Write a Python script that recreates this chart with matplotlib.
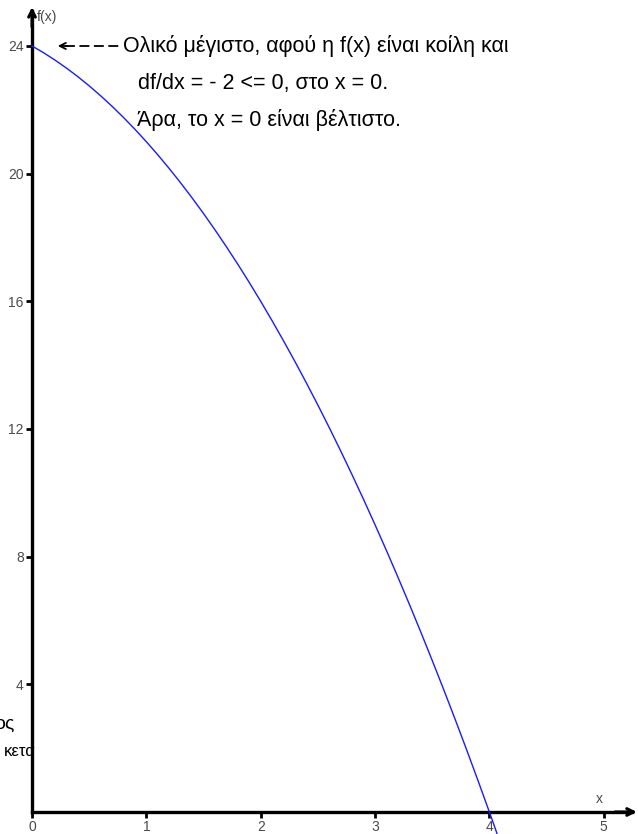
import matplotlib
matplotlib.use("Agg")
import matplotlib.pyplot as plt

plt.rcParams['font.family'] = ['Liberation Sans', 'DejaVu Sans']

# Sample points of f(x) along the plotted range
x_vals = [0.0, 0.1, 0.2, 0.3, 0.4, 0.5, 0.6, 0.7, 0.8, 0.9, 1.0,
          1.1, 1.2, 1.3, 1.4, 1.5, 1.6, 1.7, 1.8, 1.9, 2.0,
          2.1, 2.2, 2.3, 2.4, 2.5, 2.6, 2.7, 2.8, 2.9, 3.0,
          3.1, 3.2, 3.3, 3.4, 3.5, 3.6, 3.7, 3.8, 3.9, 4.0,
          4.1, 4.2]
f_vals = [24.0, 23.79, 23.56, 23.31, 23.04, 22.75, 22.44, 22.11, 21.76, 21.39, 21.0,
          20.59, 20.16, 19.71, 19.24, 18.75, 18.24, 17.71, 17.16, 16.59, 16.0,
          15.39, 14.76, 14.11, 13.44, 12.75, 12.04, 11.31, 10.56, 9.79, 9.0,
          8.19, 7.36, 6.51, 5.64, 4.75, 3.84, 2.91, 1.96, 0.99, 0.0,
          -1.01, -2.04]

x_ticks = [0, 1, 2, 3, 4, 5]
y_ticks = [4, 8, 12, 16, 20, 24]

note_lines = ["Ολικό μέγιστο, αφού η f(x) είναι κοίλη και",
              "df/dx = - 2 <= 0, στο x = 0.",
              "Άρα, το x = 0 είναι βέλτιστο."]

fig = plt.figure(figsize=(6.38, 8.34), dpi=100)
ax = fig.add_axes([0, 0, 1, 1])
ax.set_xlim(-0.28, 5.30)
ax.set_ylim(-0.69, 25.44)

# Axes through the origin
for side in ('top', 'right'):
    ax.spines[side].set_visible(False)
ax.spines['left'].set_position(('data', 0))
ax.spines['bottom'].set_position(('data', 0))
ax.spines['left'].set_bounds(0, 25.1)
ax.spines['bottom'].set_bounds(0, 5.25)
for side in ('left', 'bottom'):
    ax.spines[side].set_linewidth(2.4)
    ax.spines[side].set_color('black')

ax.annotate('', xy=(0, 25.22), xytext=(0, 24.6),
            arrowprops=dict(arrowstyle='->', lw=2.2, color='black',
                            mutation_scale=12, shrinkA=0, shrinkB=0))
ax.annotate('', xy=(5.29, 0), xytext=(5.1, 0),
            arrowprops=dict(arrowstyle='->', lw=2.2, color='black',
                            mutation_scale=12, shrinkA=0, shrinkB=0))

ax.set_xticks(x_ticks)
ax.set_yticks(y_ticks)
ax.set_xticklabels([str(t) for t in x_ticks])
ax.set_yticklabels([str(t) for t in y_ticks])
ax.tick_params(direction='out', length=4, width=2, color='black',
               labelsize=10, labelcolor='#4a4a4a', pad=2)

ax.text(0.045, 24.9, 'f(x)', fontsize=10, color='#4a4a4a',
        ha='left', va='center')
ax.text(4.93, 0.42, 'x', fontsize=10, color='#4a4a4a',
        ha='left', va='center')

# Curve
ax.plot(x_vals, f_vals, color='#1a1aff', lw=1.0, zorder=4)

# Annotation pointing at the maximum
ax.plot([0.29, 0.79], [24, 24], color='black', lw=1.3,
        linestyle=(0, (5.5, 2.5)))
ax.annotate('', xy=(0.225, 24), xytext=(0.31, 24),
            arrowprops=dict(arrowstyle='->', lw=1.3, color='black',
                            mutation_scale=11, shrinkA=0, shrinkB=0))
ax.text(0.80, 24, note_lines[0], fontsize=15.5, ha='left', va='center')
ax.text(0.925, 22.81, note_lines[1], fontsize=15.5, ha='left', va='center')
ax.text(0.915, 21.68, note_lines[2], fontsize=15.5, ha='left', va='center')

# Partial text at the left edge
ax.text(-0.157, 2.60, 'ος', fontsize=14, ha='right', va='baseline', zorder=1)
ax.text(0.035, 1.74, 'κετα', fontsize=12, ha='right', va='baseline', zorder=1)

fig.savefig('out.png', dpi=100)
